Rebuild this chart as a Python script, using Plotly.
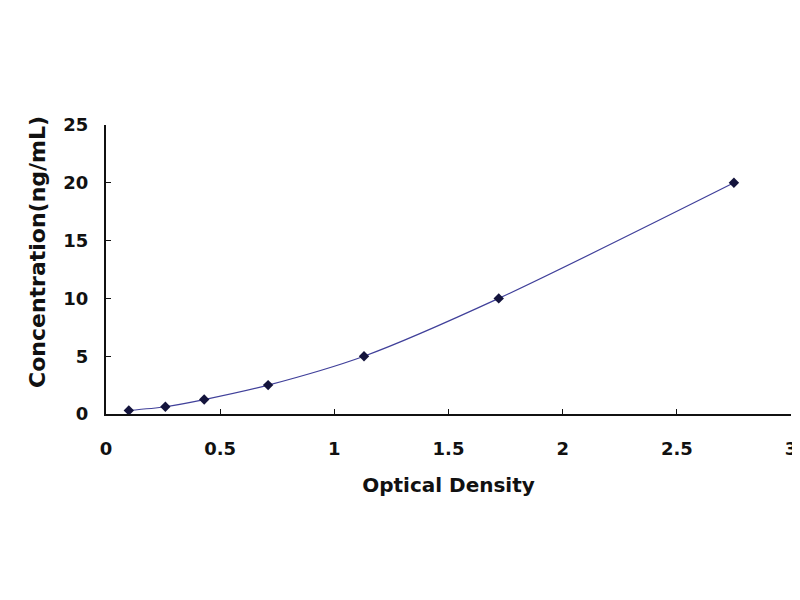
import plotly.graph_objects as go

# Standard curve data
optical_density = [0.10, 0.26, 0.43, 0.71, 1.13, 1.72, 2.75]
concentration = [0.31, 0.63, 1.25, 2.5, 5, 10, 20]

x_ticks = [0, 0.5, 1, 1.5, 2, 2.5, 3]
x_tick_text = ["0", "0.5", "1", "1.5", "2", "2.5", "3"]
y_ticks = [0, 5, 10, 15, 20, 25]

font_bold = dict(family="DejaVu Sans", weight="bold", color="#111111")

fig = go.Figure()

# fitted curve (smooth line through the standards)
fig.add_trace(go.Scatter(
    x=optical_density,
    y=concentration,
    mode="lines",
    line=dict(shape="spline", smoothing=0.8, color="#40409a", width=1.2),
    hoverinfo="skip",
    showlegend=False,
))

# measured standards
fig.add_trace(go.Scatter(
    x=optical_density,
    y=concentration,
    mode="markers",
    marker=dict(symbol="diamond", size=8, color="#14143c"),
    showlegend=False,
))

# page body adds 8px, so margins are trimmed to land the axes where the reference has them
fig.update_layout(
    width=800,
    height=600,
    paper_bgcolor="white",
    plot_bgcolor="white",
    margin=dict(l=98, r=17, t=117, b=194),
    xaxis=dict(
        range=[0, 3],
        tickvals=x_ticks,
        ticktext=x_tick_text,
        ticks="inside",
        ticklen=5,
        tickcolor="#111111",
        showline=True,
        linecolor="#111111",
        linewidth=2,
        showgrid=False,
        zeroline=False,
        tickfont=dict(size=18, **font_bold),
        ticklabelstandoff=17,
        title=dict(text="Optical Density", font=dict(size=20, **font_bold), standoff=20),
    ),
    yaxis=dict(
        range=[0, 25],
        tickvals=y_ticks,
        ticks="inside",
        ticklen=5,
        tickcolor="#111111",
        showline=True,
        linecolor="#111111",
        linewidth=2,
        showgrid=False,
        zeroline=False,
        tickfont=dict(size=18, **font_bold),
        ticklabelstandoff=12,
    ),
    annotations=[dict(
        text="Concentration(ng/mL)",
        textangle=-90,
        xref="paper", yref="paper",
        x=-0.101, y=0.56,
        xanchor="center", yanchor="middle",
        showarrow=False,
        font=dict(size=22, **font_bold),
    )],
)

fig.write_html("out.html")
